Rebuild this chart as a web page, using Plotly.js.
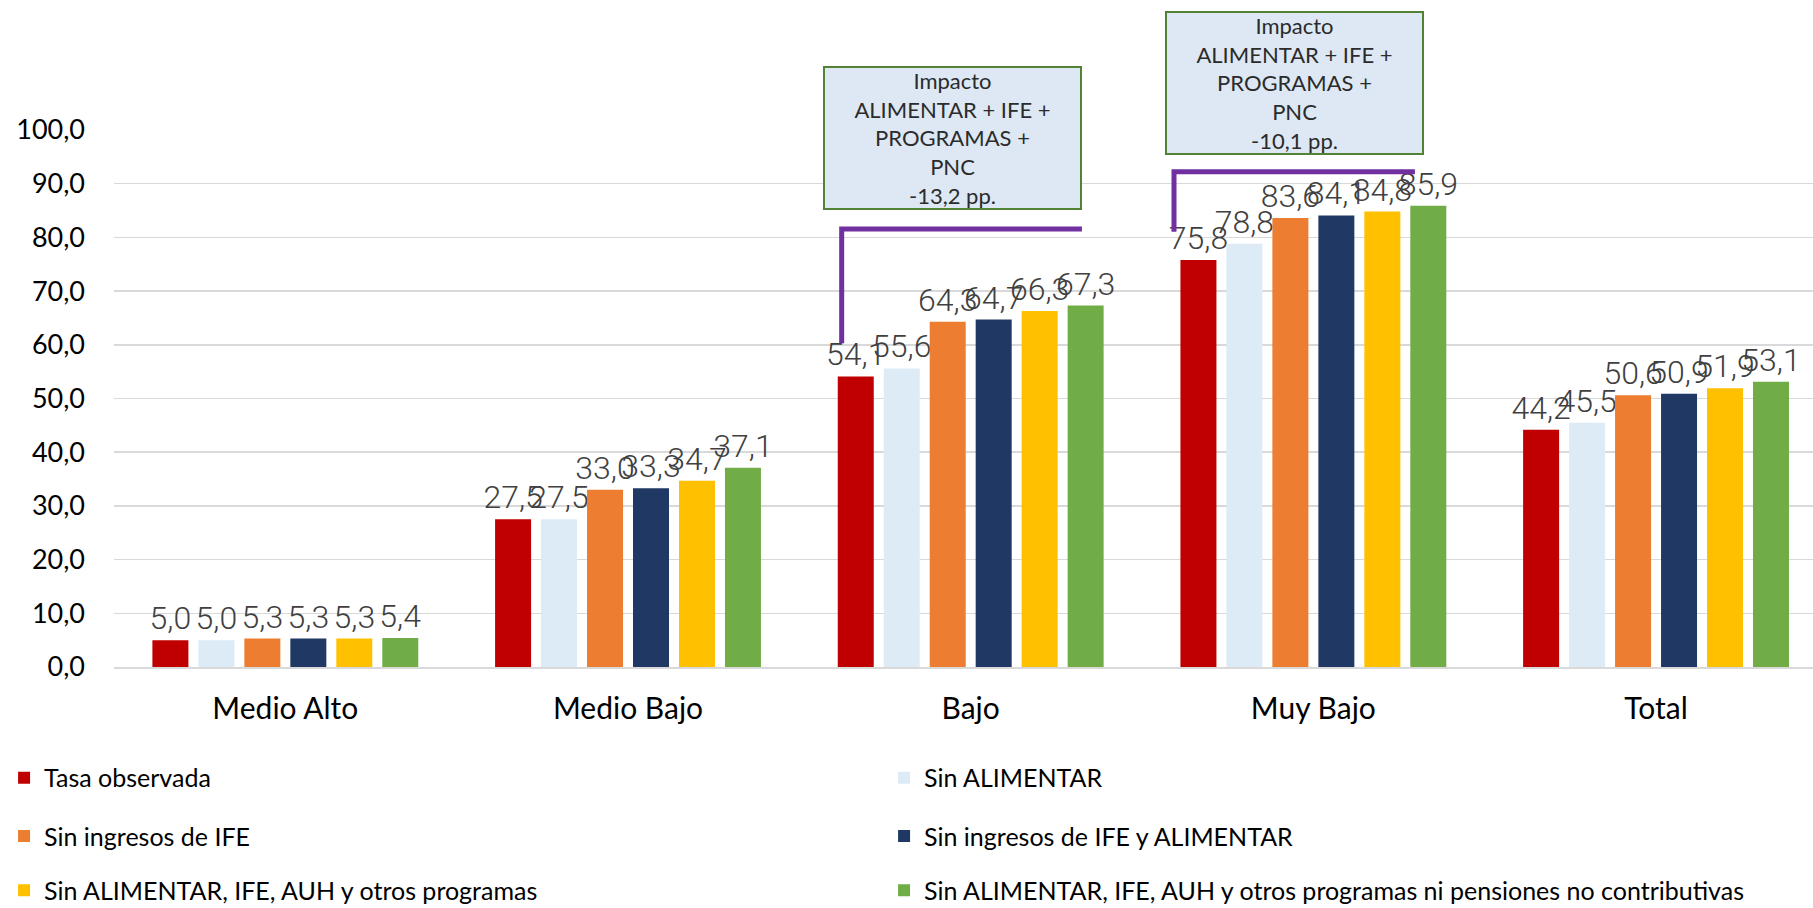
<!DOCTYPE html>
<html>
<head>
<meta charset="utf-8">
<script src="https://cdn.plot.ly/plotly-3.0.1.min.js"></script>
<style>html,body{margin:0;padding:0;background:#fff;}#chart{width:1813px;height:908px;}</style>
</head>
<body>
<div id="chart"></div>
<script>
const categories = ['Medio Alto', 'Medio Bajo', 'Bajo', 'Muy Bajo', 'Total'];
const seriesNames = [
  'Tasa observada',
  'Sin ALIMENTAR',
  'Sin ingresos de IFE',
  'Sin ingresos de IFE y ALIMENTAR',
  'Sin ALIMENTAR, IFE, AUH y otros programas',
  'Sin ALIMENTAR, IFE, AUH y otros programas ni pensiones no contributivas'
];
const tasaObservada    = [5.0, 27.5, 54.1, 75.8, 44.2];
const sinAlimentar     = [5.0, 27.5, 55.6, 78.8, 45.5];
const sinIFE           = [5.3, 33.0, 64.3, 83.6, 50.6];
const sinIFEyAlimentar = [5.3, 33.3, 64.7, 84.1, 50.9];
const sinProgramas     = [5.3, 34.7, 66.3, 84.8, 51.9];
const sinPNC           = [5.4, 37.1, 67.3, 85.9, 53.1];
const yTicks = [0, 10, 20, 30, 40, 50, 60, 70, 80, 90, 100];
const impactoBajo = 'Impacto<br>ALIMENTAR + IFE +<br>PROGRAMAS +<br>PNC<br>-13,2 pp.';
const impactoMuyBajo = 'Impacto<br>ALIMENTAR + IFE +<br>PROGRAMAS +<br>PNC<br>-10,1 pp.';

const seriesValues = [tasaObservada, sinAlimentar, sinIFE, sinIFEyAlimentar, sinProgramas, sinPNC];
const colors = ['#C00000', '#DDEBF7', '#ED7D31', '#203864', '#FFC000', '#70AD47'];
// two legend entries per row
const legendRows = ['legend', 'legend', 'legend2', 'legend2', 'legend3', 'legend3'];

const traces = seriesValues.map((vals, i) => ({
  type: 'bar',
  name: seriesNames[i],
  x: categories,
  y: vals,
  marker: { color: colors[i] },
  texttemplate: '%{y:.1f}',
  textposition: 'outside',
  constraintext: 'none',
  cliponaxis: false,
  textfont: { family: 'Roboto, sans-serif', size: 32, color: '#404040', weight: 300 },
  legend: legendRows[i],
  hoverinfo: 'skip'
}));

function legendAt(y) {
  return {
    orientation: 'h',
    x: -0.0647, xanchor: 'left',
    y: y, yanchor: 'middle',
    entrywidth: 835,
    traceorder: 'normal',
    bgcolor: 'rgba(0,0,0,0)',
    font: { family: 'Lato, sans-serif', size: 25, color: '#000' }
  };
}

const boxStyle = {
  xref: 'paper', yref: 'paper', showarrow: false,
  xanchor: 'center', yanchor: 'middle',
  width: 255, height: 140,
  bgcolor: '#DDE8F4', bordercolor: '#548235', borderwidth: 2, borderpad: 0,
  align: 'center',
  font: { family: 'Lato, sans-serif', size: 22, color: '#2b2b2b' }
};

const layout = {
  width: 1813, height: 908,
  margin: { l: 114, r: 0, t: 130, b: 241, autoexpand: false },
  paper_bgcolor: '#fff', plot_bgcolor: '#fff',
  separators: ',.',
  barmode: 'group',
  bargap: 0.195,
  bargroupgap: 0.217,
  xaxis: {
    type: 'category',
    range: [-0.5, 4.458],
    showgrid: false,
    showline: true, linecolor: '#D9D9D9', linewidth: 2,
    ticks: '',
    ticklabelstandoff: 14,
    tickfont: { family: 'Lato, sans-serif', size: 30, color: '#000' },
    fixedrange: true
  },
  yaxis: {
    range: [0, 100],
    tickvals: yTicks,
    tickformat: '.1f',
    showgrid: true, gridcolor: '#D9D9D9', gridwidth: 1.5,
    zeroline: false,
    showline: false,
    ticks: '',
    ticklabelstandoff: 28,
    tickfont: { family: 'Lato, sans-serif', size: 27, color: '#000' },
    fixedrange: true
  },
  legend: legendAt(-0.2067),
  legend2: legendAt(-0.3150),
  legend3: legendAt(-0.4160),
  shapes: [
    { type: 'path', xref: 'paper', yref: 'paper',
      path: 'M 0.4283,0.6028 L 0.4283,0.8156 L 0.5697,0.8156',
      line: { color: '#7030A0', width: 5 } },
    { type: 'path', xref: 'paper', yref: 'paper',
      path: 'M 0.6239,0.8106 L 0.6239,0.9223 L 0.7657,0.9223',
      line: { color: '#7030A0', width: 5 } }
  ],
  annotations: [
    Object.assign({}, boxStyle, { x: 0.4934, y: 0.9860, text: impactoBajo }),
    Object.assign({}, boxStyle, { x: 0.6947, y: 1.0869, text: impactoMuyBajo })
  ]
};

Plotly.newPlot('chart', traces, layout, { displayModeBar: false, staticPlot: true });
</script>
</body>
</html>
